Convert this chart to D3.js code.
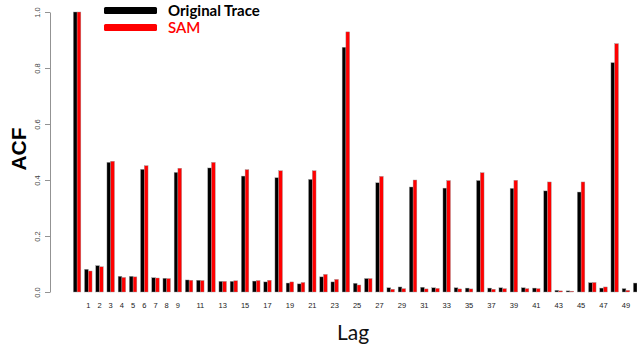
<!DOCTYPE html>
<html>
<head>
<meta charset="utf-8">
<script src="https://cdn.jsdelivr.net/npm/d3@7"></script>
<style>
  body { margin: 0; background: #fff; }
  svg { display: block; }
  .ytick text { font-family: "Liberation Sans", Arial, sans-serif; font-size: 7.5px; fill: #444; }
  .xlab { font-family: "Liberation Sans", Arial, sans-serif; font-size: 7.5px; fill: #222; }
</style>
</head>
<body>
<svg width="637" height="349"></svg>
<script>
// lags 0..50
var lags = d3.range(0, 51);

// ACF
var original = [1.000, 0.081, 0.094, 0.463, 0.056, 0.056, 0.438, 0.051, 0.049, 0.427,
                0.043, 0.042, 0.443, 0.038, 0.038, 0.414, 0.039, 0.036, 0.408, 0.032,
                0.029, 0.402, 0.054, 0.036, 0.874, 0.031, 0.048, 0.390, 0.015, 0.018,
                0.375, 0.017, 0.015, 0.371, 0.015, 0.014, 0.398, 0.014, 0.015, 0.370,
                0.015, 0.014, 0.361, 0.006, 0.004, 0.357, 0.033, 0.014, 0.819, 0.012,
                0.032];
var sam =      [1.000, 0.075, 0.090, 0.467, 0.052, 0.054, 0.451, 0.050, 0.048, 0.442,
                0.042, 0.041, 0.463, 0.038, 0.040, 0.437, 0.041, 0.042, 0.433, 0.036,
                0.034, 0.433, 0.063, 0.045, 0.929, 0.025, 0.048, 0.413, 0.010, 0.012,
                0.400, 0.011, 0.013, 0.398, 0.011, 0.011, 0.426, 0.010, 0.012, 0.399,
                0.012, 0.012, 0.393, 0.004, 0.003, 0.393, 0.034, 0.018, 0.887, 0.006,
                0.030];

// labels R kept on the axis (others dropped for overlap)
var xLabels = [1, 2, 3, 4, 5, 6, 7, 8, 9, 11, 13, 15, 17, 19, 21, 23, 25, 27, 29,
               31, 33, 35, 37, 39, 41, 43, 45, 47, 49];
var yTicks = [0, 0.2, 0.4, 0.6, 0.8, 1.0];

var seriesNames = ["Original Trace", "SAM"];
var colors = { "Original Trace": "#000000", "SAM": "#ff0000" };

var svg = d3.select("svg");

var x = d3.scaleBand().domain(lags).range([71.5, 642.7])
    .paddingInner(0.33).paddingOuter(0.165);
var xs = d3.scaleBand().domain(seriesNames).range([0, x.bandwidth()]);
var y = d3.scaleLinear().domain([0, 1]).range([292, 12]);

// bars
var groups = svg.append("g").selectAll("g")
    .data(lags)
    .enter().append("g")
    .attr("transform", function(d) { return "translate(" + x(d) + ",0)"; });

groups.selectAll("rect")
    .data(function(d, i) {
        return [{ s: "Original Trace", v: original[i] }, { s: "SAM", v: sam[i] }];
    })
    .enter().append("rect")
    .attr("x", function(d) { return xs(d.s); })
    .attr("width", xs.bandwidth())
    .attr("y", function(d) { return y(d.v); })
    .attr("height", function(d) { return y(0) - y(d.v); })
    .style("fill", function(d) { return colors[d.s]; })
    .style("stroke", "#999")
    .style("stroke-width", 0.4);

// y axis
var yAxis = svg.append("g")
    .attr("class", "ytick")
    .attr("transform", "translate(50,0)")
    .call(d3.axisLeft(y).tickValues(yTicks).tickFormat(d3.format(".1f"))
        .tickSize(5).tickSizeOuter(0));
yAxis.selectAll("path, line").attr("stroke", "#777").attr("stroke-width", 0.8);
yAxis.selectAll("text")
    .attr("transform", "rotate(-90)")
    .attr("x", 0)
    .attr("y", -10)
    .attr("dy", 0)
    .style("text-anchor", "middle");

// x labels (no axis line, like barplot names)
svg.append("g").selectAll("text")
    .data(xLabels)
    .enter().append("text")
    .attr("class", "xlab")
    .attr("x", function(d) { return x(d) + x.bandwidth() / 2; })
    .attr("y", 308)
    .attr("text-anchor", "middle")
    .text(function(d) { return d; });

// axis titles
svg.append("text")
    .attr("transform", "translate(26,149) rotate(-90)")
    .attr("text-anchor", "middle")
    .style("font-family", "Liberation Sans, Arial, sans-serif")
    .style("font-weight", "bold")
    .style("font-size", "21px")
    .text("ACF");

svg.append("text")
    .attr("x", 353)
    .attr("y", 340)
    .attr("text-anchor", "middle")
    .style("font-family", "Lato, sans-serif")
    .style("font-size", "21px")
    .style("fill", "#111")
    .text("Lag");

// legend
var legend = svg.append("g");
seriesNames.forEach(function(s, i) {
    legend.append("rect")
        .attr("x", 104).attr("y", 7 + i * 17)
        .attr("width", 53).attr("height", 7)
        .attr("rx", 1.5)
        .style("fill", colors[s]);
    legend.append("text")
        .attr("x", 168).attr("y", 15.5 + i * 17)
        .style("font-family", "Lato, sans-serif")
        .style("font-weight", i == 0 ? "bold" : "600")
        .style("font-size", "15px")
        .style("fill", colors[s])
        .text(s);
});
</script>
</body>
</html>
